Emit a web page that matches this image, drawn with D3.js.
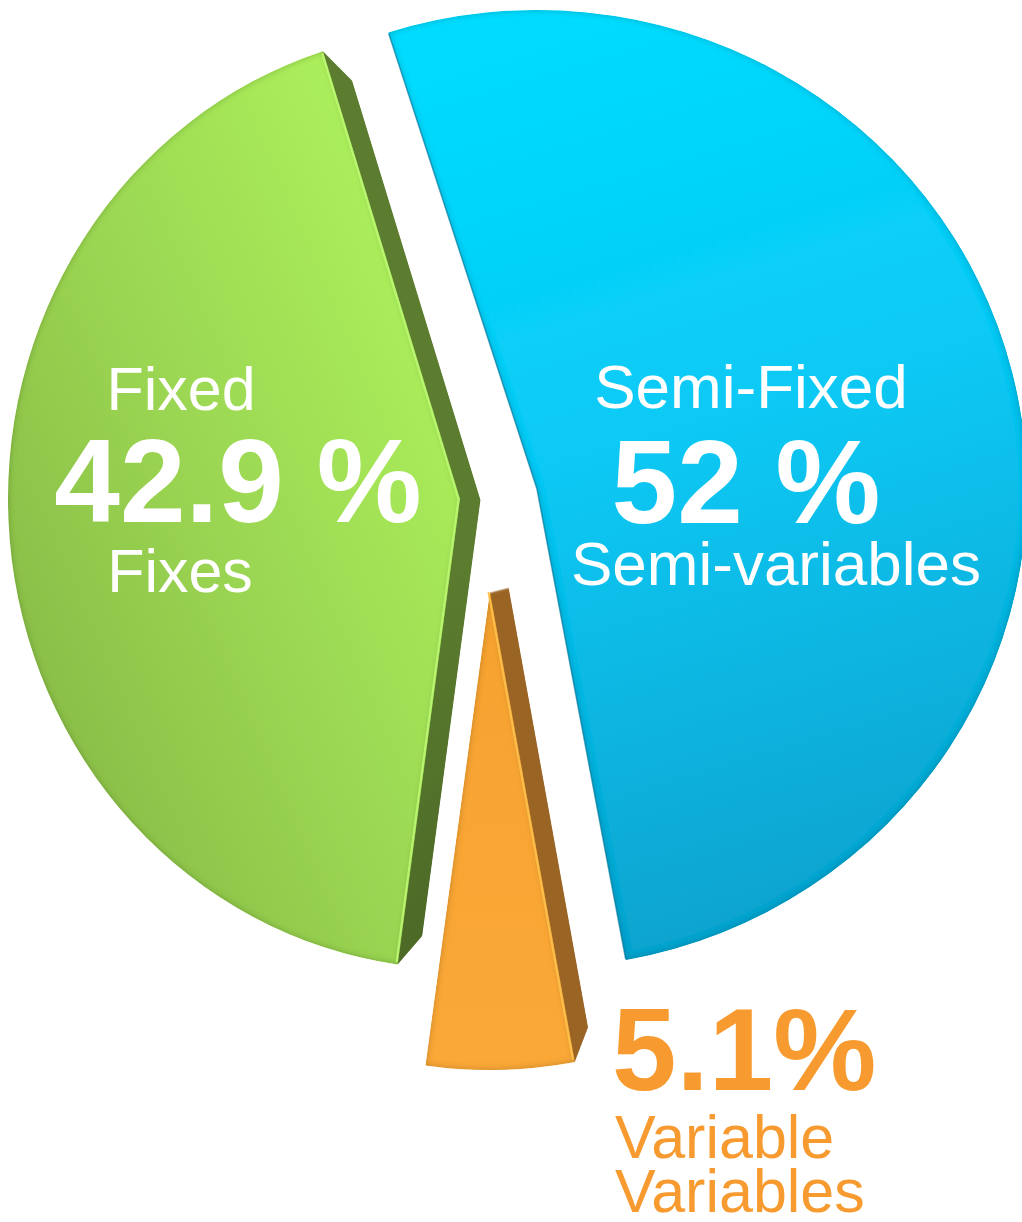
<!DOCTYPE html>
<html>
<head>
<meta charset="utf-8">
<script src="https://cdn.jsdelivr.net/npm/d3@7"></script>
<style>
  html, body { margin: 0; padding: 0; background: #ffffff; }
  svg { display: block; }
</style>
</head>
<body>
<script>
// ---------- data ----------
const categories   = ["Semi-Fixed", "Variable", "Fixed"];
const frenchLabels = ["Semi-variables", "Variables", "Fixes"];
const values       = [52, 5.1, 42.9];
const valueLabels  = ["52 %", "5.1%", "42.9 %"];

// ---------- layout / style ----------
const W = 1022, H = 1222;
const startDeg = -17.65;
const VP = [784, 516];      // vanishing point of the extrusion
const depth = 0.063;        // extrusion depth (fraction toward VP)

const geom = {
  "Semi-Fixed": { cx: 537, cy: 489, rx: 490, ry: 479 },
  "Variable":   { cx: 490, cy: 592, rx: 468, ry: 478 },
  "Fixed":      { cx: 460, cy: 499, rx: 452, ry: 470 }
};
const sideFill = { "Semi-Fixed": "#0a6f8e", "Variable": "url(#sideOrange)", "Fixed": "url(#sideGreen)" };
const faceFill = { "Semi-Fixed": "url(#faceBlue)", "Variable": "url(#faceOrange)", "Fixed": "url(#faceGreen)" };

const svg = d3.select("body").append("svg").attr("width", W).attr("height", H);
const defs = svg.append("defs");

function linGrad(id, x1, y1, x2, y2, stops, units) {
  const g = defs.append("linearGradient").attr("id", id)
    .attr("x1", x1).attr("y1", y1).attr("x2", x2).attr("y2", y2);
  if (units) g.attr("gradientUnits", units);
  stops.forEach(s => g.append("stop").attr("offset", s[0]).attr("stop-color", s[1]));
}
linGrad("faceBlue", 0.3, 0, 0.5, 1, [[0, "#00dcff"], [0.45, "#0ac9f5"], [1, "#0aa2cd"]]);
linGrad("faceGreen", 0.95, 0.25, 0.15, 0.95, [[0, "#acf05c"], [0.5, "#9bd652"], [1, "#86b946"]]);
linGrad("faceOrange", 0, 0, 0, 1, [[0, "#f6a232"], [1, "#faa838"]]);
linGrad("sideGreen", 0, 50, 0, 970, [[0, "#5c7d2f"], [0.47, "#4c6926"], [0.49, "#3c5121"], [1, "#33461c"]], "userSpaceOnUse");
linGrad("sideOrange", 0, 590, 0, 1070, [[0, "#9a6425"], [1, "#875719"]], "userSpaceOnUse");

// inner rim shading filter
const f = defs.append("filter").attr("id", "rim").attr("x", "-5%").attr("y", "-5%").attr("width", "110%").attr("height", "110%");
f.append("feGaussianBlur").attr("in", "SourceAlpha").attr("stdDeviation", 3.5).attr("result", "blur");
f.append("feComposite").attr("in", "SourceAlpha").attr("in2", "blur")
  .attr("operator", "arithmetic").attr("k2", 1).attr("k3", -1).attr("result", "edge");
f.append("feFlood").attr("flood-color", "#000").attr("flood-opacity", 0.45).attr("result", "col");
f.append("feComposite").attr("in", "col").attr("in2", "edge").attr("operator", "in").attr("result", "shadow");
const m = f.append("feMerge");
m.append("feMergeNode").attr("in", "SourceGraphic");
m.append("feMergeNode").attr("in", "shadow");

// ---------- pie ----------
const a0 = startDeg * Math.PI / 180;
const pie = d3.pie().sort(null).value(d => d).startAngle(a0).endAngle(a0 + 2 * Math.PI);
const arcs = pie(values).map((d, i) => Object.assign(d, { name: categories[i] }));

function sliceTransform(name) {
  const g = geom[name];
  return `translate(${g.cx},${g.cy}) scale(${g.rx / g.ry},1)`;
}
function arcPath(name) {
  return d3.arc().innerRadius(0).outerRadius(geom[name].ry);
}
function pt(name, ang, r) {
  const g = geom[name];
  return [g.cx + Math.sin(ang) * g.rx * r, g.cy - Math.cos(ang) * g.ry * r];
}

// extrusion layers (back to front)
const N = 48;
const sides = svg.append("g");
arcs.forEach(d => {
  for (let j = N; j >= 1; j--) {
    const s = 1 - depth * j / N;
    sides.append("g")
      .attr("transform", `translate(${VP[0]},${VP[1]}) scale(${s}) translate(${-VP[0]},${-VP[1]})`)
      .append("path")
      .attr("transform", sliceTransform(d.name))
      .attr("d", arcPath(d.name)(d))
      .attr("fill", sideFill[d.name]);
  }
});

// front faces
const faces = svg.append("g");
arcs.forEach(d => {
  faces.append("path")
    .attr("transform", sliceTransform(d.name))
    .attr("d", arcPath(d.name)(d))
    .attr("fill", faceFill[d.name])
    .attr("filter", "url(#rim)");
});

// highlight edges on front faces
const line = d3.line();
const fx = arcs[2], vr = arcs[1], sf = arcs[0];
svg.append("path")
  .attr("d", line([pt("Fixed", fx.endAngle, 0.995), pt("Fixed", 0, 0), pt("Fixed", fx.startAngle, 0.995)]))
  .attr("fill", "none").attr("stroke", "#bdf873").attr("stroke-width", 2.2).attr("opacity", 0.9)
  .attr("transform", "translate(-1.5,0)");
svg.append("path")
  .attr("d", line([pt("Variable", 0, 0), pt("Variable", vr.startAngle, 0.995)]))
  .attr("fill", "none").attr("stroke", "#ffc24c").attr("stroke-width", 2.2).attr("opacity", 0.9)
  .attr("transform", "translate(-1.5,0)");
svg.append("path")
  .attr("d", line([pt("Semi-Fixed", sf.startAngle, 0.998), pt("Semi-Fixed", 0, 0), pt("Semi-Fixed", sf.endAngle, 0.998)]))
  .attr("fill", "none").attr("stroke", "#0a7fa2").attr("stroke-width", 1.5).attr("opacity", 0.7);

// ---------- labels ----------
const font = "'Liberation Sans', Arial, Helvetica, sans-serif";
const labelSpec = [
  { i: 0, lines: [
    { t: categories[0],  x: 751, y: 408, size: 62, w: "normal" },
    { t: valueLabels[0], x: 746, y: 523, size: 118, w: "bold" },
    { t: frenchLabels[0], x: 776, y: 585, size: 62, w: "normal" } ], anchor: "middle", color: "#ffffff" },
  { i: 2, lines: [
    { t: categories[2],  x: 181, y: 410, size: 61, w: "normal" },
    { t: valueLabels[2], x: 238, y: 522, size: 118, w: "bold" },
    { t: frenchLabels[2], x: 180, y: 592, size: 61, w: "normal" } ], anchor: "middle", color: "#ffffff" },
  { i: 1, lines: [
    { t: valueLabels[1], x: 612, y: 1090, size: 116, w: "bold" },
    { t: categories[1],  x: 615, y: 1158, size: 61, w: "normal" },
    { t: frenchLabels[1], x: 615, y: 1212, size: 61, w: "normal" } ], anchor: "start", color: "#f79a2f" }
];
const lg = svg.append("g").attr("font-family", font);
labelSpec.forEach(spec => {
  spec.lines.forEach(l => {
    lg.append("text")
      .attr("x", l.x).attr("y", l.y)
      .attr("text-anchor", spec.anchor)
      .attr("font-size", l.size)
      .attr("font-weight", l.w)
      .attr("fill", spec.color)
      .text(l.t);
  });
});
</script>
</body>
</html>
